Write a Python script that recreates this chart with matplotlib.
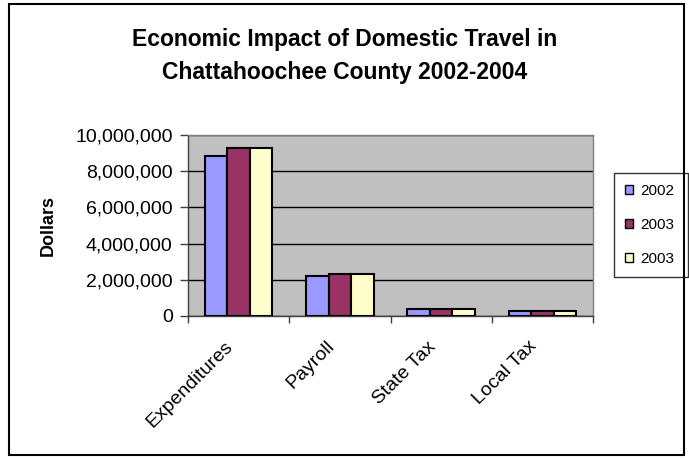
import matplotlib.pyplot as plt
import matplotlib.transforms as mtransforms
import numpy as np
from matplotlib.patches import Rectangle
from matplotlib.ticker import FuncFormatter

categories = ['Expenditures', 'Payroll', 'State Tax', 'Local Tax']
series_names = ['2002', '2003', '2003']
vals_2002 = [8860000, 2190000, 370000, 280000]
vals_2003 = [9280000, 2300000, 380000, 285000]
vals_2003b = [9280000, 2300000, 380000, 285000]
colors = ['#9999ff', '#993366', '#ffffcc']

plt.rcParams['font.family'] = ['Liberation Sans', 'DejaVu Sans']

fig = plt.figure(figsize=(6.89, 4.59), dpi=100)
# outer chart border
fig.patches.append(Rectangle((9 / 689, 1 - 455 / 459), 675 / 689, 451 / 459,
                             transform=fig.transFigure, fill=False,
                             edgecolor='black', linewidth=1.5))

ax = fig.add_axes([188 / 689, 1 - 316 / 459, 405 / 689, 181 / 459])
ax.set_facecolor('#c0c0c0')

x = np.arange(len(categories))
w = 1 / 4.5
for i, (vals, name) in enumerate(zip([vals_2002, vals_2003, vals_2003b], series_names)):
    ax.bar(x + (i - 1) * w, vals, width=w, color=colors[i], edgecolor='black',
           linewidth=1.5, label=name, zorder=3)

ax.set_xlim(-0.5, len(categories) - 0.5)
ax.set_ylim(0, 10000000)
ax.set_yticks(np.arange(0, 10000001, 2000000))
ax.yaxis.set_major_formatter(FuncFormatter(lambda v, p: f'{int(v):,}'))
ax.yaxis.grid(True, color='black', linewidth=1)
ax.set_axisbelow(True)

# ticks sit between categories, like Excel
ax.set_xticks(np.arange(-0.5, len(categories) + 0.5, 1))
ax.set_xticklabels([])
ax.tick_params(axis='x', length=5, width=1, color='#404040')
ax.tick_params(axis='y', length=6, width=1, color='#404040', labelsize=14, pad=5)

# rotated category labels, anchored a little left of / below each category centre
offset = mtransforms.ScaledTranslation(-14 / 100, -22 / 100, fig.dpi_scale_trans)
for xi, cat in zip(x, categories):
    ax.text(xi, 0, cat, transform=ax.get_xaxis_transform() + offset,
            rotation=45, rotation_mode='anchor', ha='right', va='top', fontsize=14)

for s in ['top', 'right']:
    ax.spines[s].set_color('#808080')
    ax.spines[s].set_linewidth(1)
for s in ['left', 'bottom']:
    ax.spines[s].set_color('#404040')
    ax.spines[s].set_linewidth(1)

ax.set_ylabel('Dollars', fontsize=13, fontweight='bold')
ax.yaxis.set_label_coords(-0.325, 0.5)

fig.text(0.5, 1 - 56 / 459, 'Economic Impact of Domestic Travel in\nChattahoochee County 2002-2004',
         ha='center', va='center', fontsize=16.5, fontweight='bold', linespacing=1.6)

leg = ax.legend(loc='upper left', bbox_to_anchor=(614 / 689, 1 - 173 / 459, 74 / 689, 0),
                bbox_transform=fig.transFigure, mode='expand',
                fontsize=11, frameon=True, fancybox=False, edgecolor='black',
                handlelength=0.5, handleheight=0.5, handletextpad=0.5,
                labelspacing=1.31, borderpad=0.72, borderaxespad=0)
leg.get_frame().set_linewidth(1)
for h in leg.legend_handles:
    h.set_linewidth(1)

fig.savefig('out.png', dpi=100)
